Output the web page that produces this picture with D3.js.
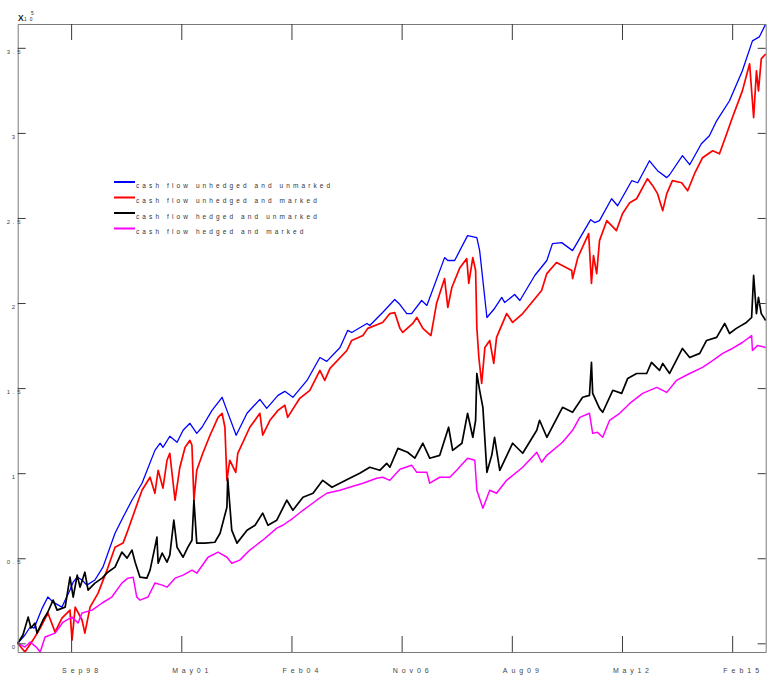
<!DOCTYPE html>
<html>
<head>
<meta charset="utf-8">
<script src="https://cdnjs.cloudflare.com/ajax/libs/d3/7.8.5/d3.min.js"></script>
<style>
body { margin: 0; background: #fff; }
svg { display: block; font-family: "Liberation Sans", Arial, sans-serif; }
.axis .domain { stroke: #7a7a7a; }
.axis .tick line { stroke: #3a3a3a; }
.axis text { fill: #444; }
.series { fill: none; stroke-linejoin: round; }
</style>
</head>
<body>
<svg width="769" height="677"></svg>
<script>
// values are in units of 10^5, x is decimal year
var exponent = 5;

var legendLabels = ['cash flow unhedged and unmarked', 'cash flow unhedged and marked',
    'cash flow hedged and unmarked', 'cash flow hedged and marked'];
var seriesColors = ['#0000ff', '#ff0000', '#000000', '#ff00ff'];

var yTickValues = [0, 0.5, 1, 1.5, 2, 2.5, 3, 3.5];
var yTickLabels = ['0', '0.5', '1', '1.5', '2', '2.5', '3', '3.5'];
// matlab datetick: one tick every 1000 days
var xTickStart = '1998-09-02';
var xTickStepDays = 1000;
var xTickLabels = ['Sep98', 'May01', 'Feb04', 'Nov06', 'Aug09', 'May12', 'Feb15'];

var unhedgedUnmarked = [
    [1997.34, 0.00], [1997.52, 0.049], [1997.65, 0.096], [1997.75, 0.090], [1997.95, 0.207],
    [1998.09, 0.272], [1998.22, 0.242], [1998.44, 0.213], [1998.64, 0.313], [1998.72, 0.360],
    [1998.82, 0.389], [1998.94, 0.372], [1999.06, 0.342], [1999.26, 0.372], [1999.46, 0.448],
    [1999.76, 0.647], [1999.96, 0.741], [2000.18, 0.841], [2000.43, 0.941], [2000.75, 1.134],
    [2000.88, 1.176], [2000.95, 1.152], [2001.12, 1.217], [2001.30, 1.182], [2001.45, 1.252],
    [2001.62, 1.293], [2001.79, 1.234], [2001.92, 1.270], [2002.17, 1.369], [2002.42, 1.446],
    [2002.54, 1.369], [2002.77, 1.223], [2003.04, 1.352], [2003.36, 1.434], [2003.53, 1.381],
    [2003.81, 1.457], [2003.98, 1.481], [2004.18, 1.446], [2004.53, 1.545], [2004.85, 1.680],
    [2005.02, 1.657], [2005.35, 1.739], [2005.54, 1.839], [2005.64, 1.827], [2006.02, 1.880],
    [2006.09, 1.868], [2006.41, 1.944], [2006.71, 2.021], [2006.84, 1.991], [2007.01, 1.938],
    [2007.13, 1.938], [2007.38, 2.015], [2007.51, 1.986], [2007.95, 2.267], [2008.03, 2.250],
    [2008.20, 2.250], [2008.52, 2.396], [2008.75, 2.385], [2008.82, 2.308], [2009.00, 1.915],
    [2009.19, 1.968], [2009.37, 2.033], [2009.44, 2.003], [2009.69, 2.050], [2009.82, 2.015],
    [2010.19, 2.162], [2010.49, 2.250], [2010.63, 2.349], [2010.86, 2.355], [2011.13, 2.308],
    [2011.58, 2.490], [2011.68, 2.473], [2011.80, 2.484], [2012.10, 2.613], [2012.25, 2.572],
    [2012.60, 2.719], [2012.75, 2.707], [2013.04, 2.836], [2013.24, 2.778], [2013.47, 2.737],
    [2013.54, 2.754], [2013.86, 2.866], [2014.04, 2.813], [2014.33, 2.936], [2014.53, 2.983],
    [2014.71, 3.071], [2015.03, 3.189], [2015.35, 3.365], [2015.60, 3.541], [2015.77, 3.564],
    [2015.93, 3.640]
];

var unhedgedMarked = [
    [1997.34, 0.00], [1997.52, -0.051], [1997.72, 0.019], [1997.90, 0.090], [1998.09, 0.178],
    [1998.27, 0.066], [1998.44, 0.148], [1998.64, 0.195], [1998.69, 0.019], [1998.77, 0.213],
    [1998.94, 0.137], [1999.01, 0.060], [1999.14, 0.213], [1999.34, 0.295], [1999.56, 0.430],
    [1999.76, 0.565], [1999.96, 0.589], [2000.08, 0.665], [2000.43, 0.900], [2000.63, 0.976],
    [2000.75, 0.882], [2000.83, 1.017], [2000.95, 0.912], [2001.05, 1.076], [2001.12, 1.117],
    [2001.25, 0.841], [2001.37, 1.035], [2001.50, 1.152], [2001.62, 1.193], [2001.67, 1.164],
    [2001.72, 0.841], [2001.79, 1.017], [2001.94, 1.117], [2002.12, 1.223], [2002.32, 1.328],
    [2002.42, 1.352], [2002.49, 1.270], [2002.54, 0.958], [2002.61, 1.076], [2002.76, 1.005],
    [2002.81, 1.117], [2003.11, 1.270], [2003.36, 1.352], [2003.43, 1.223], [2003.61, 1.311],
    [2003.81, 1.369], [2003.98, 1.399], [2004.05, 1.328], [2004.35, 1.440], [2004.60, 1.487],
    [2004.85, 1.604], [2004.97, 1.545], [2005.10, 1.616], [2005.52, 1.721], [2005.64, 1.780],
    [2005.92, 1.809], [2006.04, 1.851], [2006.41, 1.886], [2006.59, 1.938], [2006.71, 1.944],
    [2006.84, 1.851], [2006.91, 1.827], [2007.16, 1.880], [2007.26, 1.915], [2007.41, 1.851],
    [2007.61, 1.809], [2007.75, 1.997], [2007.95, 2.144], [2008.03, 1.974], [2008.13, 2.091],
    [2008.33, 2.208], [2008.50, 2.261], [2008.55, 2.115], [2008.65, 2.267], [2008.72, 2.191],
    [2008.75, 1.856], [2008.80, 1.680], [2008.87, 1.528], [2008.95, 1.739], [2009.07, 1.780],
    [2009.17, 1.645], [2009.24, 1.798], [2009.49, 1.938], [2009.64, 1.886], [2009.89, 1.938],
    [2010.36, 2.074], [2010.49, 2.173], [2010.73, 2.238], [2011.11, 2.191], [2011.13, 2.144],
    [2011.26, 2.267], [2011.53, 2.408], [2011.60, 2.115], [2011.65, 2.279], [2011.73, 2.173],
    [2011.80, 2.367], [2011.98, 2.484], [2012.22, 2.426], [2012.37, 2.525], [2012.55, 2.590],
    [2012.72, 2.613], [2012.99, 2.731], [2013.12, 2.690], [2013.24, 2.643], [2013.37, 2.543],
    [2013.47, 2.643], [2013.61, 2.719], [2013.84, 2.707], [2013.99, 2.660], [2014.16, 2.760],
    [2014.36, 2.854], [2014.61, 2.895], [2014.78, 2.877], [2014.96, 2.995], [2015.10, 3.089],
    [2015.35, 3.247], [2015.53, 3.406], [2015.63, 3.089], [2015.70, 3.365], [2015.75, 3.247],
    [2015.82, 3.435], [2015.93, 3.464]
];

var hedgedUnmarked = [
    [1997.34, 0.00], [1997.47, 0.049], [1997.60, 0.154], [1997.67, 0.090], [1997.77, 0.119],
    [1997.82, 0.060], [1997.97, 0.137], [1998.09, 0.184], [1998.22, 0.254], [1998.32, 0.195],
    [1998.52, 0.213], [1998.64, 0.389], [1998.72, 0.272], [1998.82, 0.401], [1998.89, 0.330],
    [1999.01, 0.418], [1999.09, 0.313], [1999.26, 0.354], [1999.44, 0.383], [1999.58, 0.418],
    [1999.76, 0.448], [1999.93, 0.536], [2000.06, 0.501], [2000.18, 0.548], [2000.26, 0.477],
    [2000.38, 0.389], [2000.55, 0.383], [2000.63, 0.430], [2000.75, 0.565], [2000.80, 0.624],
    [2000.83, 0.471], [2000.93, 0.530], [2001.05, 0.477], [2001.12, 0.518], [2001.22, 0.724],
    [2001.30, 0.565], [2001.45, 0.506], [2001.57, 0.565], [2001.67, 0.606], [2001.72, 0.841],
    [2001.79, 0.589], [2001.99, 0.589], [2002.24, 0.594], [2002.37, 0.647], [2002.54, 0.800],
    [2002.56, 0.970], [2002.66, 0.665], [2002.79, 0.589], [2003.04, 0.665], [2003.24, 0.694],
    [2003.43, 0.765], [2003.56, 0.694], [2003.78, 0.724], [2004.03, 0.841], [2004.18, 0.782],
    [2004.43, 0.859], [2004.68, 0.882], [2004.92, 0.958], [2005.15, 0.917], [2005.59, 0.970],
    [2005.84, 1.000], [2006.09, 1.035], [2006.34, 1.017], [2006.51, 1.058], [2006.59, 1.035],
    [2006.79, 1.146], [2007.03, 1.123], [2007.21, 1.088], [2007.41, 1.176], [2007.58, 1.088],
    [2007.83, 1.105], [2008.05, 1.270], [2008.15, 1.134], [2008.38, 1.176], [2008.52, 1.352],
    [2008.65, 1.211], [2008.72, 1.311], [2008.75, 1.586], [2008.82, 1.487], [2008.90, 1.387],
    [2009.00, 1.005], [2009.12, 1.105], [2009.19, 1.211], [2009.32, 1.017], [2009.64, 1.176],
    [2009.89, 1.117], [2010.24, 1.252], [2010.31, 1.311], [2010.49, 1.211], [2010.88, 1.387],
    [2011.13, 1.358], [2011.38, 1.446], [2011.55, 1.457], [2011.60, 1.651], [2011.63, 1.469],
    [2011.80, 1.381], [2011.88, 1.358], [2012.13, 1.487], [2012.35, 1.469], [2012.50, 1.557],
    [2012.72, 1.586], [2012.97, 1.586], [2013.09, 1.651], [2013.29, 1.604], [2013.37, 1.645],
    [2013.54, 1.586], [2013.86, 1.733], [2014.04, 1.680], [2014.29, 1.704], [2014.46, 1.780],
    [2014.71, 1.798], [2014.91, 1.880], [2015.03, 1.821], [2015.20, 1.851], [2015.45, 1.886],
    [2015.58, 1.915], [2015.63, 2.162], [2015.70, 1.938], [2015.75, 2.033], [2015.82, 1.938],
    [2015.93, 1.897]
];

var hedgedMarked = [
    [1997.34, 0.00], [1997.52, -0.022], [1997.65, 0.008], [1997.80, -0.022], [1997.90, -0.051],
    [1998.02, 0.037], [1998.27, 0.060], [1998.47, 0.125], [1998.69, 0.154], [1998.84, 0.119],
    [1998.94, 0.178], [1999.19, 0.195], [1999.44, 0.237], [1999.68, 0.272], [1999.93, 0.354],
    [2000.08, 0.383], [2000.21, 0.389], [2000.30, 0.272], [2000.38, 0.254], [2000.58, 0.272],
    [2000.75, 0.354], [2000.93, 0.342], [2001.05, 0.330], [2001.25, 0.383], [2001.45, 0.401],
    [2001.67, 0.430], [2001.79, 0.412], [2002.07, 0.506], [2002.32, 0.536], [2002.54, 0.506],
    [2002.66, 0.471], [2002.86, 0.489], [2003.11, 0.548], [2003.43, 0.606], [2003.78, 0.677],
    [2003.93, 0.694], [2004.18, 0.735], [2004.43, 0.782], [2004.77, 0.841], [2005.02, 0.882],
    [2005.35, 0.900], [2005.59, 0.917], [2005.92, 0.941], [2006.26, 0.970], [2006.41, 0.976],
    [2006.59, 0.958], [2006.84, 1.023], [2007.13, 1.047], [2007.26, 1.005], [2007.51, 1.005],
    [2007.58, 0.941], [2007.83, 0.976], [2008.08, 0.976], [2008.25, 1.017], [2008.52, 1.088],
    [2008.70, 1.076], [2008.75, 0.900], [2008.90, 0.794], [2009.07, 0.900], [2009.24, 0.882],
    [2009.49, 0.958], [2009.89, 1.035], [2010.24, 1.123], [2010.36, 1.064], [2010.49, 1.105],
    [2010.88, 1.182], [2011.13, 1.252], [2011.31, 1.328], [2011.55, 1.352], [2011.63, 1.234],
    [2011.75, 1.240], [2011.88, 1.211], [2012.05, 1.311], [2012.30, 1.352], [2012.55, 1.410],
    [2012.87, 1.469], [2013.22, 1.504], [2013.47, 1.475], [2013.71, 1.545], [2014.04, 1.586],
    [2014.36, 1.622], [2014.61, 1.662], [2014.86, 1.704], [2015.10, 1.733], [2015.35, 1.768],
    [2015.58, 1.809], [2015.60, 1.721], [2015.73, 1.751], [2015.93, 1.739]
];

var allSeries = [unhedgedUnmarked, unhedgedMarked, hedgedUnmarked, hedgedMarked];

var svg = d3.select('svg');
var svgWidth = +svg.attr('width');
var svgHeight = +svg.attr('height');
var padding = {t: 24, r: 3.3, b: 25, l: 17.7};

var chartWidth = svgWidth - padding.l - padding.r;
var chartHeight = svgHeight - padding.t - padding.b;

var chartG = svg.append('g')
    .attr('transform', 'translate(' + [padding.l, padding.t] + ')');

// decimal year -> utc date
function yearToDate(y) {
    var yr = Math.floor(y);
    var a = Date.UTC(yr, 0, 1), b = Date.UTC(yr + 1, 0, 1);
    return new Date(a + (y - yr) * (b - a));
}

// axis tight, like matlab
var allPoints = d3.merge(allSeries);
var xExtent = d3.extent(allPoints, function(d) { return d[0]; }).map(yearToDate);
var yExtent = d3.extent(allPoints, function(d) { return d[1]; });

var xScale = d3.scaleUtc().domain(xExtent).range([0, chartWidth]);
var yScale = d3.scaleLinear().domain(yExtent).range([chartHeight, 0]);

var tick0 = new Date(xTickStart + 'T00:00:00Z');
var xTickValues = xTickLabels.map(function(l, i) { return d3.utcDay.offset(tick0, i * xTickStepDays); });

// lines first, box on top
var line = d3.line()
    .x(function(d) { return xScale(yearToDate(d[0])); })
    .y(function(d) { return yScale(d[1]); });

var lineWidths = [1.3, 1.7, 1.7, 1.5];
chartG.selectAll('path.series')
    .data(allSeries)
    .enter()
    .append('path')
    .attr('class', 'series')
    .attr('d', line)
    .style('stroke', function(d, i) { return seriesColors[i]; })
    .style('stroke-width', function(d, i) { return lineWidths[i]; });

var xAxis = d3.axisBottom(xScale).tickValues(xTickValues)
    .tickFormat(function(d, i) { return xTickLabels[i]; })
    .tickSizeInner(-16).tickSizeOuter(0);
var xAxisTop = d3.axisTop(xScale).tickValues(xTickValues).tickFormat('')
    .tickSizeInner(-16).tickSizeOuter(0);
var yAxis = d3.axisLeft(yScale).tickValues(yTickValues)
    .tickFormat(function(d, i) { return yTickLabels[i]; })
    .tickSizeInner(-8).tickSizeOuter(0);
var yAxisRight = d3.axisRight(yScale).tickValues(yTickValues).tickFormat('')
    .tickSizeInner(-8).tickSizeOuter(0);

var gx = chartG.append('g')
    .attr('class', 'x axis')
    .attr('transform', 'translate(0,' + chartHeight + ')')
    .call(xAxis);
gx.selectAll('text')
    .attr('text-anchor', 'start')
    .attr('x', -9.5)
    .attr('y', 20.5)
    .attr('dy', null)
    .attr('font-size', 7)
    .attr('textLength', 36)
    .attr('lengthAdjust', 'spacing');

chartG.append('g')
    .attr('class', 'x axis')
    .call(xAxisTop);

var gy = chartG.append('g')
    .attr('class', 'y axis')
    .call(yAxis);
gy.selectAll('text')
    .attr('text-anchor', 'start')
    .attr('x', function(d, i) { return yTickLabels[i].length > 1 ? -11 : -6; })
    .attr('y', 5.5)
    .attr('dy', null)
    .attr('font-size', 6)
    .style('letter-spacing', '2.8px');

chartG.append('g')
    .attr('class', 'y axis')
    .attr('transform', 'translate(' + chartWidth + ',0)')
    .call(yAxisRight);

chartG.selectAll('.axis').attr('font-family', null).attr('font-size', null);

// x10^5 multiplier
var mult = svg.append('g').attr('fill', '#222');
mult.append('text').attr('x', 18).attr('y', 21)
    .attr('font-size', 8.5).attr('font-weight', 'bold').text('X');
mult.append('text').attr('x', 24).attr('y', 20.5)
    .attr('font-size', 4.8).style('letter-spacing', '3px').text('10');
mult.append('text').attr('x', 31).attr('y', 15)
    .attr('font-size', 4.8).text(String(exponent));

// legend
var legendG = svg.append('g').attr('transform', 'translate(114,182)');
var legendRow = legendG.selectAll('g')
    .data(legendLabels)
    .enter()
    .append('g')
    .attr('transform', function(d, i) { return 'translate(0,' + (i * 15.5) + ')'; });
legendRow.append('line')
    .attr('x1', 0).attr('x2', 21)
    .attr('stroke-width', 2)
    .attr('stroke', function(d, i) { return seriesColors[i]; });
legendRow.append('text')
    .attr('x', 22).attr('y', 5.5)
    .attr('font-size', 6.5)
    .attr('fill', '#333')
    .style('letter-spacing', '3.1px')
    .text(function(d) { return d; });
</script>
</body>
</html>
